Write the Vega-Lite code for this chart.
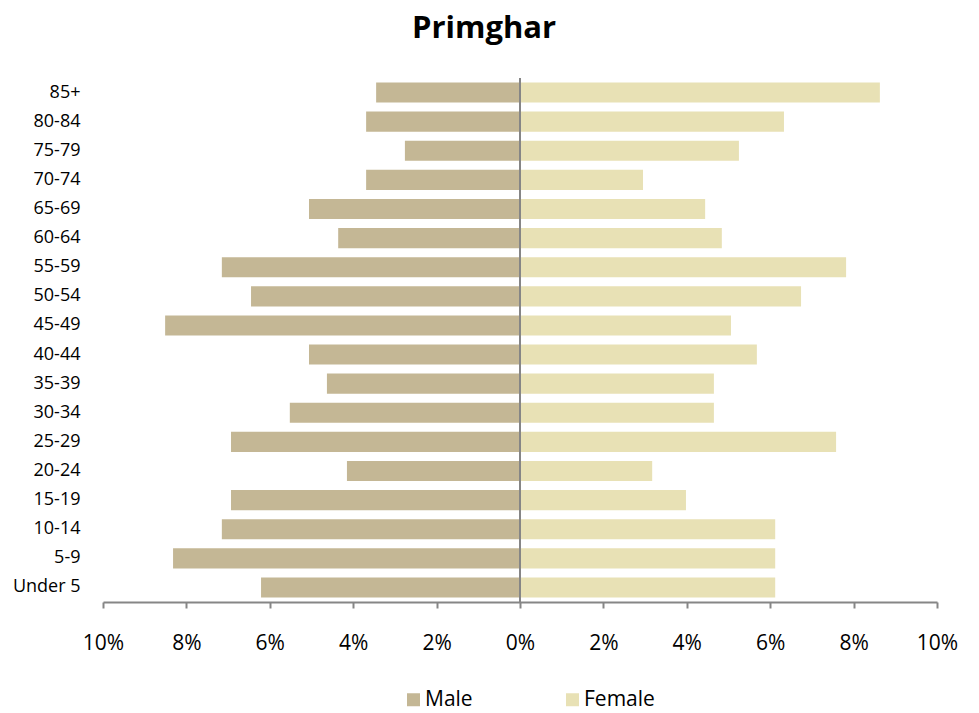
{
  "$schema": "https://vega.github.io/schema/vega-lite/v6.json",
  "width": 834,
  "height": 524,
  "autosize": "none",
  "padding": {"left": 103, "top": 78, "right": 42, "bottom": 111},
  "title": {"text": "Primghar", "font": "Open Sans", "fontSize": 31, "fontWeight": "bold", "color": "#000000", "anchor": "middle", "baseline": "alphabetic", "offset": 8, "dx": -36},
  "config": {"view": {"stroke": null}, "font": "Open Sans"},
  "data": {"values": [
    {"age": "85+", "sex": "Male", "value": -0.0345},
    {"age": "80-84", "sex": "Male", "value": -0.0369},
    {"age": "75-79", "sex": "Male", "value": -0.0276},
    {"age": "70-74", "sex": "Male", "value": -0.0369},
    {"age": "65-69", "sex": "Male", "value": -0.0506},
    {"age": "60-64", "sex": "Male", "value": -0.0436},
    {"age": "55-59", "sex": "Male", "value": -0.0715},
    {"age": "50-54", "sex": "Male", "value": -0.0645},
    {"age": "45-49", "sex": "Male", "value": -0.0851},
    {"age": "40-44", "sex": "Male", "value": -0.0506},
    {"age": "35-39", "sex": "Male", "value": -0.0463},
    {"age": "30-34", "sex": "Male", "value": -0.0552},
    {"age": "25-29", "sex": "Male", "value": -0.0693},
    {"age": "20-24", "sex": "Male", "value": -0.0415},
    {"age": "15-19", "sex": "Male", "value": -0.0693},
    {"age": "10-14", "sex": "Male", "value": -0.0715},
    {"age": "5-9", "sex": "Male", "value": -0.0832},
    {"age": "Under 5", "sex": "Male", "value": -0.0621},
    {"age": "85+", "sex": "Female", "value": 0.0863},
    {"age": "80-84", "sex": "Female", "value": 0.0633},
    {"age": "75-79", "sex": "Female", "value": 0.0525},
    {"age": "70-74", "sex": "Female", "value": 0.0295},
    {"age": "65-69", "sex": "Female", "value": 0.0444},
    {"age": "60-64", "sex": "Female", "value": 0.0484},
    {"age": "55-59", "sex": "Female", "value": 0.0782},
    {"age": "50-54", "sex": "Female", "value": 0.0674},
    {"age": "45-49", "sex": "Female", "value": 0.0506},
    {"age": "40-44", "sex": "Female", "value": 0.0568},
    {"age": "35-39", "sex": "Female", "value": 0.0465},
    {"age": "30-34", "sex": "Female", "value": 0.0465},
    {"age": "25-29", "sex": "Female", "value": 0.0758},
    {"age": "20-24", "sex": "Female", "value": 0.0317},
    {"age": "15-19", "sex": "Female", "value": 0.0398},
    {"age": "10-14", "sex": "Female", "value": 0.0612},
    {"age": "5-9", "sex": "Female", "value": 0.0612},
    {"age": "Under 5", "sex": "Female", "value": 0.0612}
  ]},
  "layer": [
    {
      "mark": {"type": "bar"},
      "encoding": {
        "y": {
          "field": "age", "type": "nominal",
          "sort": ["85+", "80-84", "75-79", "70-74", "65-69", "60-64", "55-59", "50-54", "45-49", "40-44", "35-39", "30-34", "25-29", "20-24", "15-19", "10-14", "5-9", "Under 5"],
          "scale": {"paddingInner": 0.31, "paddingOuter": 0.155},
          "axis": {"title": null, "domain": false, "ticks": false, "labelPadding": 23, "labelFontSize": 18, "labelColor": "#000000"}
        },
        "x": {
          "field": "value", "type": "quantitative",
          "scale": {"domain": [-0.1, 0.1]},
          "axis": {"title": null, "values": [-0.1, -0.08, -0.06, -0.04, -0.02, 0, 0.02, 0.04, 0.06, 0.08, 0.1], "labelExpr": "format(abs(datum.value), '.0%')", "labelFlush": false, "grid": false, "domainColor": "#868686", "domainWidth": 2, "tickColor": "#868686", "tickWidth": 2, "tickSize": 6, "labelFontSize": 21, "labelPadding": 24, "labelColor": "#000000"}
        },
        "color": {
          "field": "sex", "type": "nominal",
          "scale": {"domain": ["Male", "Female"], "range": ["#C4B795", "#E8E1B5"]},
          "legend": {"title": null, "orient": "none", "legendX": 300, "legendY": 611, "direction": "horizontal", "symbolType": "square", "symbolSize": 169, "symbolStrokeWidth": 0, "labelFontSize": 21, "labelColor": "#000000", "labelOffset": 1, "columnPadding": 89}
        }
      }
    },
    {
      "mark": {"type": "rule", "color": "#868686", "strokeWidth": 2},
      "encoding": {"x": {"datum": 0}}
    }
  ]
}
